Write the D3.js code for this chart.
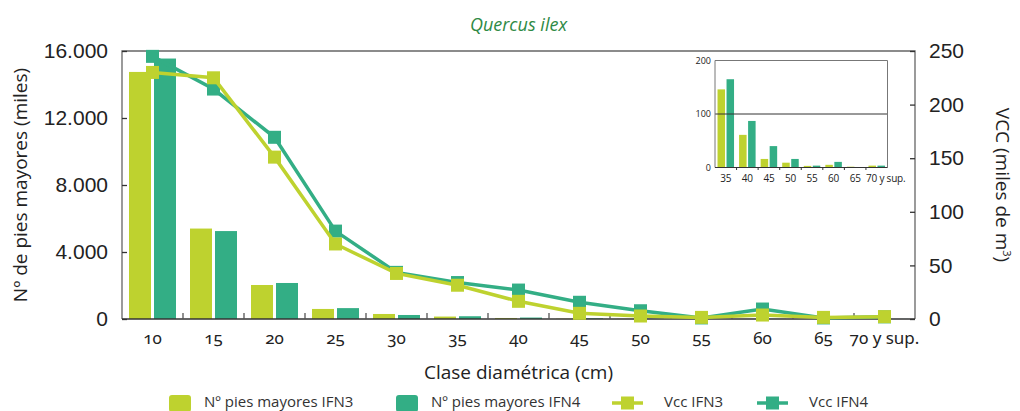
<!DOCTYPE html>
<html>
<head>
<meta charset="utf-8">
<script src="https://cdn.jsdelivr.net/npm/d3@7"></script>
<style>
  body { margin: 0; background: #fff; }
  svg { font-family: "Open Sans", "Noto Sans", sans-serif; }
  .axis text { fill: #222; }
</style>
</head>
<body>
<svg id="chart" width="1020" height="411"></svg>
<script>
// Data (miles de pies / miles de m3)
const categories = ['10', '15', '20', '25', '30', '35', '40', '45', '50', '55', '60', '65', '70 y sup.'];
const piesIFN3 = [14750, 5400, 2030, 600, 300, 146, 61, 16, 9, 3, 5, 1.5, 3.5];
const piesIFN4 = [15550, 5250, 2150, 650, 240, 165, 87, 40, 16, 3.5, 10.5, 0, 3.5];
const vccIFN3 = [230, 225, 151, 70, 42.5, 31.5, 16.5, 5.3, 2.8, 1.5, 3.7, 1.5, 2.2];
const vccIFN4 = [245, 214.5, 169.5, 82, 43.5, 34, 27, 15.6, 7.7, 1, 9.3, 1, 2];
const leftTicks = [0, 4000, 8000, 12000, 16000];
const rightTicks = [0, 50, 100, 150, 200, 250];
const insetStart = 5;        // inset shows from class 35
const insetTicks = [0, 100, 200];

const colIFN3 = '#bed22f';
const colIFN4 = '#33ae85';

const svg = d3.select('#chart');
const margin = {top: 51, right: 105, bottom: 92, left: 122};
const width = 1020 - margin.left - margin.right;
const height = 411 - margin.top - margin.bottom;

const chart = svg.append('g').attr('transform', `translate(${margin.left},${margin.top})`);

// Scales
const x = d3.scaleBand().domain(categories).range([0, width]).padding(0);
const xSub = d3.scaleBand().domain(['IFN3', 'IFN4']).range([0, x.bandwidth()])
    .paddingInner(0.12).paddingOuter(0.28);
const yLeft = d3.scaleLinear().domain([0, 16000]).range([height, 0]);
const yRight = d3.scaleLinear().domain([0, 250]).range([height, 0]);

const rows = categories.map((c, i) => ({
  cat: c, p3: piesIFN3[i], p4: piesIFN4[i], v3: vccIFN3[i], v4: vccIFN4[i]
}));

// Bars
const barG = chart.append('g');
barG.selectAll('.b3').data(rows).join('rect')
    .attr('x', d => x(d.cat) + xSub('IFN3'))
    .attr('width', xSub.bandwidth())
    .attr('y', d => yLeft(d.p3))
    .attr('height', d => height - yLeft(d.p3))
    .attr('fill', colIFN3);
barG.selectAll('.b4').data(rows).join('rect')
    .attr('x', d => x(d.cat) + xSub('IFN4'))
    .attr('width', xSub.bandwidth())
    .attr('y', d => yLeft(d.p4))
    .attr('height', d => height - yLeft(d.p4))
    .attr('fill', colIFN4);

// Frame: top + left + right lines in grey
chart.append('path')
    .attr('d', `M0,${height}V0H${width}V${height}`)
    .attr('fill', 'none').attr('stroke', '#666').attr('stroke-width', 1.3);

// Left axis (inner ticks)
const yAxisL = d3.axisLeft(yLeft).tickValues(leftTicks).tickSize(-5).tickPadding(14)
    .tickFormat(d => d3.format(',')(d).replace(/,/g, '.'));
chart.append('g').attr('class', 'axis')
    .call(yAxisL)
    .call(g => g.select('.domain').remove())
    .call(g => g.selectAll('line').attr('stroke', '#333').attr('stroke-width', 1.3))
    .call(g => g.selectAll('text').attr('font-size', 21));

// Right axis (inner ticks)
const yAxisR = d3.axisRight(yRight).tickValues(rightTicks).tickSize(-5).tickPadding(14);
chart.append('g').attr('class', 'axis')
    .attr('transform', `translate(${width},0)`)
    .call(yAxisR)
    .call(g => g.select('.domain').remove())
    .call(g => g.selectAll('line').attr('stroke', '#333').attr('stroke-width', 1.3))
    .call(g => g.selectAll('text').attr('font-size', 21));

// Bottom axis: line, ticks between classes, labels centred
chart.append('line')
    .attr('x1', 0).attr('x2', width).attr('y1', height).attr('y2', height)
    .attr('stroke', '#333').attr('stroke-width', 1.6);
chart.append('g').selectAll('line').data(categories.slice(1)).join('line')
    .attr('x1', d => x(d)).attr('x2', d => x(d))
    .attr('y1', height).attr('y2', height - 6)
    .attr('stroke', '#555').attr('stroke-width', 1.3);
chart.append('g').attr('class', 'axis').selectAll('text').data(categories).join('text')
    .attr('x', d => x(d) + x.bandwidth() / 2)
    .attr('y', height + 25)
    .attr('text-anchor', 'middle')
    .attr('font-size', 17)
    .style('font-family', '"Noto Sans", sans-serif')
    .style('font-variant-numeric', 'oldstyle-nums')
    .text(d => d);

// Lines (IFN4 under IFN3)
const cx = d => x(d.cat) + x.bandwidth() / 2;
const sq = 13;
function drawSeries(key, color) {
  const line = d3.line().x(cx).y(d => yRight(d[key]));
  chart.append('path').datum(rows)
      .attr('d', line).attr('fill', 'none')
      .attr('stroke', color).attr('stroke-width', 3.5);
  chart.append('g').selectAll('rect').data(rows).join('rect')
      .attr('x', d => cx(d) - sq / 2)
      .attr('y', d => yRight(d[key]) - sq / 2)
      .attr('width', sq).attr('height', sq)
      .attr('fill', color);
}
drawSeries('v4', colIFN4);
drawSeries('v3', colIFN3);

// Inset chart (classes 35 and up)
const inset = {left: 715, top: 60.5, width: 172.5, height: 107};
const insetRows = rows.slice(insetStart);
const ig = svg.append('g').attr('transform', `translate(${inset.left},${inset.top})`);
const xi = d3.scaleBand().domain(insetRows.map(d => d.cat)).range([0, inset.width]);
const xiSub = d3.scaleBand().domain(['IFN3', 'IFN4']).range([0, xi.bandwidth()])
    .paddingInner(1 / 6).paddingOuter(0.28);
const yi = d3.scaleLinear().domain([0, 200]).range([inset.height, 0]);

ig.append('rect').attr('width', inset.width).attr('height', inset.height).attr('fill', '#fff');
ig.selectAll('.i3').data(insetRows).join('rect')
    .attr('x', d => xi(d.cat) + xiSub('IFN3'))
    .attr('width', xiSub.bandwidth())
    .attr('y', d => yi(d.p3))
    .attr('height', d => inset.height - yi(d.p3))
    .attr('fill', colIFN3);
ig.selectAll('.i4').data(insetRows).join('rect')
    .attr('x', d => xi(d.cat) + xiSub('IFN4'))
    .attr('width', xiSub.bandwidth())
    .attr('y', d => yi(d.p4))
    .attr('height', d => inset.height - yi(d.p4))
    .attr('fill', colIFN4);
ig.append('line')
    .attr('x1', 0).attr('x2', inset.width).attr('y1', yi(100)).attr('y2', yi(100))
    .attr('stroke', '#333').attr('stroke-width', 1);
ig.append('path')
    .attr('d', `M0,${inset.height}V0H${inset.width}V${inset.height}`)
    .attr('fill', 'none').attr('stroke', '#777').attr('stroke-width', 1);
ig.append('line')
    .attr('x1', 0).attr('x2', inset.width).attr('y1', inset.height).attr('y2', inset.height)
    .attr('stroke', '#333').attr('stroke-width', 1.2);
ig.append('g').selectAll('line').data(insetRows.slice(1)).join('line')
    .attr('x1', d => xi(d.cat)).attr('x2', d => xi(d.cat))
    .attr('y1', inset.height).attr('y2', inset.height + 2.5)
    .attr('stroke', '#333');
ig.append('g').attr('class', 'axis').selectAll('text').data(insetTicks).join('text')
    .attr('x', -4).attr('y', d => yi(d)).attr('dy', '0.35em')
    .attr('text-anchor', 'end').attr('font-size', 9)
    .text(d => d);
ig.append('g').attr('class', 'axis').selectAll('text').data(insetRows).join('text')
    .attr('x', (d, i) => xi(d.cat) + xi.bandwidth() / 2 + (i === insetRows.length - 1 ? 9 : 0))
    .attr('y', inset.height + 14)
    .attr('text-anchor', 'middle').attr('font-size', 10)
    .attr('letter-spacing', -0.2)
    .text(d => d.cat);

// Titles
svg.append('text')
    .attr('x', margin.left + width / 2).attr('y', 31)
    .attr('text-anchor', 'middle')
    .attr('font-size', 18).attr('font-style', 'italic')
    .attr('fill', '#2e8a45')
    .text('Quercus ilex');

svg.append('text')
    .attr('x', margin.left + width / 2).attr('y', 379)
    .attr('text-anchor', 'middle')
    .attr('font-size', 19).attr('fill', '#222')
    .text('Clase diamétrica (cm)');

svg.append('text')
    .attr('transform', `translate(27,${margin.top + height / 2}) rotate(-90)`)
    .attr('text-anchor', 'middle')
    .attr('font-size', 19).attr('fill', '#222')
    .text('Nº de pies mayores (miles)');

const rt = svg.append('text')
    .attr('transform', `translate(996,${margin.top + height / 2}) rotate(90)`)
    .attr('text-anchor', 'middle')
    .attr('font-size', 19).attr('fill', '#222');
rt.append('tspan').text('VCC (miles de m');
rt.append('tspan').attr('font-size', 11).attr('dy', -7).text('3');
rt.append('tspan').attr('dy', 7).text(')');

// Legend
const legendItems = [
  {label: 'Nº pies mayores IFN3', color: colIFN3, type: 'bar', x: 169},
  {label: 'Nº pies mayores IFN4', color: colIFN4, type: 'bar', x: 396},
  {label: 'Vcc IFN3', color: colIFN3, type: 'line', x: 612},
  {label: 'Vcc IFN4', color: colIFN4, type: 'line', x: 757}
];
const ly = 402;
const lg = svg.append('g');
legendItems.forEach(it => {
  const g = lg.append('g').attr('transform', `translate(${it.x},${ly})`);
  if (it.type === 'bar') {
    g.append('rect').attr('x', 0).attr('y', -7).attr('width', 22).attr('height', 17)
        .attr('rx', 3).attr('fill', it.color);
    g.append('text').attr('x', 35).attr('y', 0).attr('dy', '0.35em')
        .attr('font-size', 15).attr('fill', '#333').text(it.label);
  } else {
    g.append('line').attr('x1', 0).attr('x2', 31).attr('y1', 1).attr('y2', 1)
        .attr('stroke', it.color).attr('stroke-width', 3.5);
    g.append('rect').attr('x', 9).attr('y', -5.5).attr('width', 13).attr('height', 13)
        .attr('fill', it.color);
    g.append('text').attr('x', 52).attr('y', 0).attr('dy', '0.35em')
        .attr('font-size', 15).attr('fill', '#333').text(it.label);
  }
});
</script>
</body>
</html>
